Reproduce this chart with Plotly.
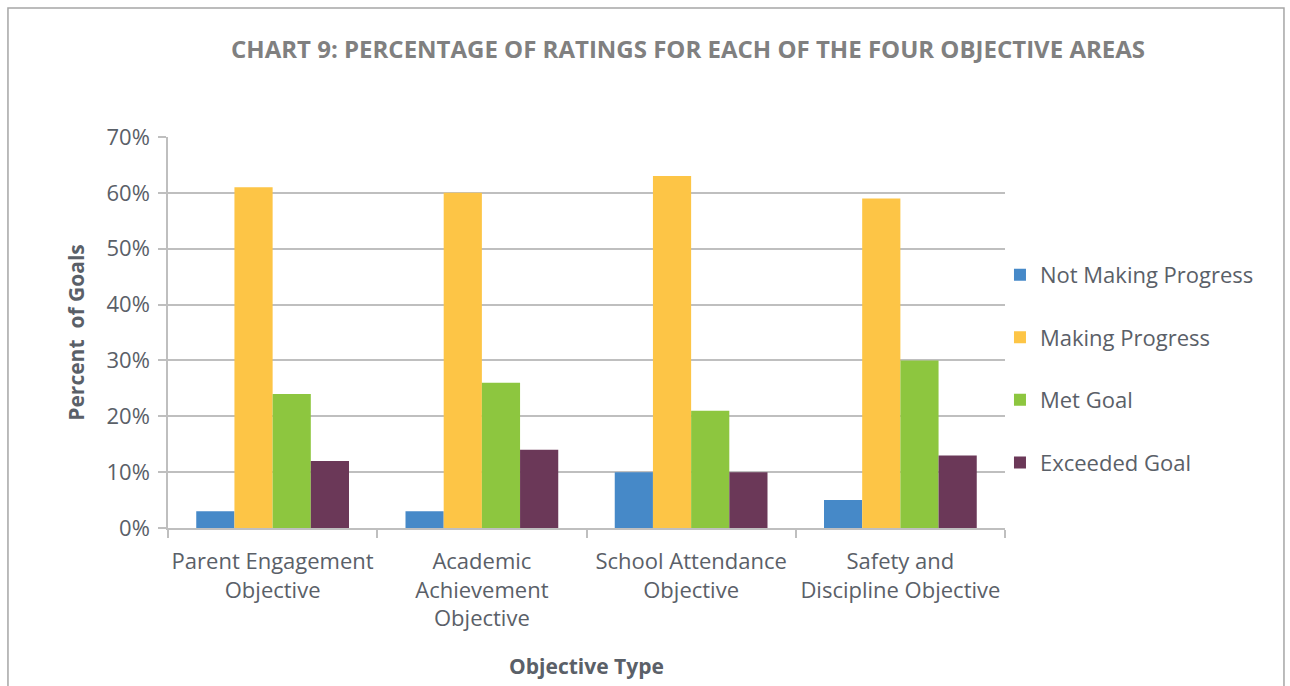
import plotly.graph_objects as go

categories = [
    "Parent Engagement<br>Objective",
    "Academic<br>Achievement<br>Objective",
    "School Attendance<br>Objective",
    "Safety and<br>Discipline Objective",
]
series_names = ["Not Making Progress", "Making Progress", "Met Goal", "Exceeded Goal"]
not_making_progress = [3, 3, 10, 5]
making_progress = [61, 60, 63, 59]
met_goal = [24, 26, 21, 30]
exceeded_goal = [12, 14, 10, 13]
y_ticks = [0, 10, 20, 30, 40, 50, 60, 70]
y_tick_labels = ["0%", "10%", "20%", "30%", "40%", "50%", "60%", "70%"]

colors = ["#4689C8", "#FDC546", "#8DC63F", "#6B3858"]
values = [not_making_progress, making_progress, met_goal, exceeded_goal]

FONT = "Open Sans"
TEXT_GREY = "#5A6068"
AXIS_GREY = "#BFBFBF"

fig = go.Figure()
for i, (name, vals, col) in enumerate(zip(series_names, values, colors)):
    fig.add_trace(go.Bar(
        name=name,
        x=categories,
        y=vals,
        marker=dict(color=col, line=dict(width=0)),
        legendgroup=str(i),
    ))

# outer chart frame
fig.add_shape(type="rect", xref="paper", yref="paper",
              x0=-0.1912, x1=1.3333, y0=-0.6, y1=1.33,
              line=dict(color="#A6A6A6", width=1.5), fillcolor="rgba(0,0,0,0)",
              layer="below")

fig.update_layout(
    width=1290, height=686,
    margin=dict(l=168, r=285, t=137, b=158),
    paper_bgcolor="white", plot_bgcolor="white",
    barmode="group", bargap=0.27, bargroupgap=0,
    font=dict(family=FONT, color=TEXT_GREY, size=22),
    title=dict(
        text="<b>CHART 9: PERCENTAGE OF RATINGS FOR EACH OF THE FOUR OBJECTIVE AREAS</b>",
        x=688 / 1290, xanchor="center", y=1 - 50 / 686, yanchor="middle",
        font=dict(family=FONT, size=24, color="#808080"),
    ),
    xaxis=dict(
        showgrid=False, showline=True, linecolor=AXIS_GREY, linewidth=1.5,
        ticks="outside", tickson="boundaries", ticklen=8, tickcolor=AXIS_GREY, tickwidth=1.5,
        tickangle=0, automargin=False,
        tickfont=dict(size=22, color=TEXT_GREY), ticklabelstandoff=13,
        title=dict(text="<b>Objective Type</b>", font=dict(size=21, color=TEXT_GREY), standoff=28),
    ),
    yaxis=dict(
        range=[0, 70], tickvals=y_ticks, ticktext=y_tick_labels,
        showgrid=True, gridcolor=AXIS_GREY, gridwidth=1.5,
        zeroline=False, showline=True, linecolor=AXIS_GREY, linewidth=1.5,
        ticks="outside", ticklen=8, tickcolor=AXIS_GREY, tickwidth=1.5,
        automargin=False,
        tickfont=dict(size=22, color=TEXT_GREY), ticklabelstandoff=4,
        title=dict(text="<b>Percent  of Goals</b>", font=dict(size=21, color=TEXT_GREY), standoff=16),
    ),
    legend=dict(
        x=0.994, xanchor="left", y=0.407, yanchor="middle",
        font=dict(size=22, color=TEXT_GREY),
        tracegroupgap=31, itemwidth=30,
        bgcolor="rgba(0,0,0,0)",
    ),
)

fig.write_html("out.html")
